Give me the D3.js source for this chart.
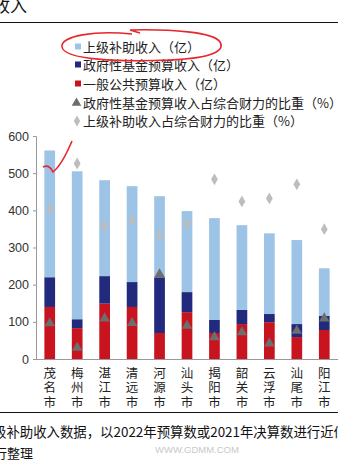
<!DOCTYPE html>
<html><head><meta charset="utf-8">
<script src="https://cdn.jsdelivr.net/npm/d3@7"></script>
<style>
html,body{margin:0;padding:0;background:#fff;overflow:hidden}
svg{display:block;font-family:"Noto Sans CJK SC","Noto Sans",sans-serif}
</style></head>
<body><svg id="c" width="338" height="460"></svg>
<script>
const cities = ["茂名市","梅州市","湛江市","清远市","河源市","汕头市","揭阳市","韶关市","云浮市","汕尾市","阳江市"];
// stacked components (亿)
const generalBudget = [140, 83, 149, 140, 70, 126, 70, 94, 99, 59, 78];
const fundBudget    = [80, 24, 74, 67, 150, 54, 35, 38, 22, 35, 38];
const upperSubsidy  = [341, 398, 258, 258, 218, 218, 274, 228, 217, 226, 128];
// ratios (%)
const fundShare     = [14.0, 4.2, 16.0, 14.1, 33.8, 13.0, 8.4, 10.4, 5.9, 11.0, 16.0];
const subsidyShare  = [60.5, 78.9, 53.6, 56.0, 50.0, 54.6, 72.5, 63.6, 64.8, 70.5, 52.4];
const yTicks = [0, 100, 200, 300, 400, 500, 600];
const legendItems = ["上级补助收入（亿）","政府性基金预算收入（亿）","一般公共预算收入（亿）","政府性基金预算收入占综合财力的比重（%）","上级补助收入占综合财力的比重（%）"];

const C = {sub:"#9DC3E6", fund:"#212A7C", gen:"#C8141F", tri:"#6E6E6E", dia:"#BDBDBD"};
const svg = d3.select("#c");

// header
svg.append("text").attr("x",-7).attr("y",12).attr("font-size",17).attr("fill","#111").text("收入");
svg.append("line").attr("x1",0).attr("x2",338).attr("y1",22.5).attr("y2",22.5).attr("stroke","#111").attr("stroke-width",1.2);

const x = d3.scaleBand().domain(cities).range([36, 338]).paddingInner(0.61).paddingOuter(0.305);
const y = d3.scaleLinear().domain([0, 600]).range([359, 136]);
const y2 = d3.scaleLinear().domain([0, 90]).range([359, 136]);

// axes
const ya = svg.append("g").attr("transform","translate(36,0)")
  .call(d3.axisLeft(y).tickValues(yTicks).tickSize(3).tickPadding(4));
ya.select(".domain").attr("stroke","#999");
ya.selectAll(".tick line").attr("stroke","#999");
ya.selectAll("text").attr("font-size",12.5).attr("fill","#333").attr("font-family","Liberation Sans, Arial, sans-serif");

const stack = cities.map((c,i)=>({c, parts:[
  {y0:0, y1:generalBudget[i], col:C.gen},
  {y0:generalBudget[i], y1:generalBudget[i]+fundBudget[i], col:C.fund},
  {y0:generalBudget[i]+fundBudget[i], y1:generalBudget[i]+fundBudget[i]+upperSubsidy[i], col:C.sub}
]}));
const g = svg.append("g");
stack.forEach(s=>{
  s.parts.forEach(p=>{
    g.append("rect").attr("x",x(s.c)).attr("width",x.bandwidth())
      .attr("y",y(p.y1)).attr("height",y(p.y0)-y(p.y1)).attr("fill",p.col);
  });
});
// baseline
svg.append("line").attr("x1",36).attr("x2",338).attr("y1",359.5).attr("y2",359.5).attr("stroke","#999");

// markers
const cx = c => x(c)+x.bandwidth()/2;
svg.append("g").selectAll("path").data(cities).join("path")
  .attr("d", d3.symbol().type(d3.symbolDiamond).size(40))
  .attr("transform",(c,i)=>`translate(${cx(c)},${y2(subsidyShare[i])})`).attr("fill",C.dia);
svg.append("g").selectAll("path").data(cities).join("path")
  .attr("d", d3.symbol().type(d3.symbolTriangle).size(48))
  .attr("transform",(c,i)=>`translate(${cx(c)},${y2(fundShare[i])-1})`).attr("fill",C.tri);

// x labels (vertical)
cities.forEach(c=>{
  const t = svg.append("text").attr("text-anchor","middle").attr("font-size",12.5).attr("fill","#222");
  [...c].forEach((ch,k)=>t.append("tspan").attr("x",cx(c)).attr("y",378+k*14.3).text(ch));
});

// legend
const lg = svg.append("g");
const ly = [47, 65, 84, 103, 121];
legendItems.forEach((t,i)=>{
  const yy = ly[i];
  if(i<3){
    lg.append("rect").attr("x",75).attr("y",yy-3.5).attr("width",6).attr("height",6)
      .attr("fill",[C.sub,C.fund,C.gen][i]);
  } else if(i===3){
    lg.append("path").attr("d",d3.symbol().type(d3.symbolTriangle).size(40)).attr("transform",`translate(76.5,${yy})`).attr("fill",C.tri);
  } else {
    lg.append("path").attr("d",d3.symbol().type(d3.symbolDiamond).size(34)).attr("transform",`translate(77,${yy})`).attr("fill",C.dia);
  }
  lg.append("text").attr("x",83).attr("y",yy+4.5).attr("font-size",13).attr("fill","#222").text(t);
});

// hand annotations
svg.append("path").attr("d","M 132 34 C 95 30, 60 36, 62 47 C 64 60, 120 62, 170 60 C 215 58, 225 50, 220 42 C 214 32, 170 29, 130 30 L 140 33")
  .attr("fill","none").attr("stroke","#E8262B").attr("stroke-width",1.6);
svg.append("path").attr("d","M 43 167 C 47 165, 50 166, 53 172 C 58 168, 64 160, 72 141")
  .attr("fill","none").attr("stroke","#E8262B").attr("stroke-width",1.6);

// footnote
svg.append("line").attr("x1",0).attr("x2",338).attr("y1",412.5).attr("y2",412.5).attr("stroke","#111");
svg.append("text").attr("x",-7).attr("y",437).attr("font-size",13.4).attr("fill","#111")
  .text("级补助收入数据，以2022年预算数或2021年决算数进行近似");
svg.append("text").attr("x",-6).attr("y",458).attr("font-size",13).attr("fill","#111").text("行整理");
svg.append("text").attr("x",155).attr("y",453).attr("font-size",9.5).attr("fill","#c8c8c8").attr("font-family","Liberation Sans, sans-serif").text("WWW.GDMM.COM");
</script></body></html>
